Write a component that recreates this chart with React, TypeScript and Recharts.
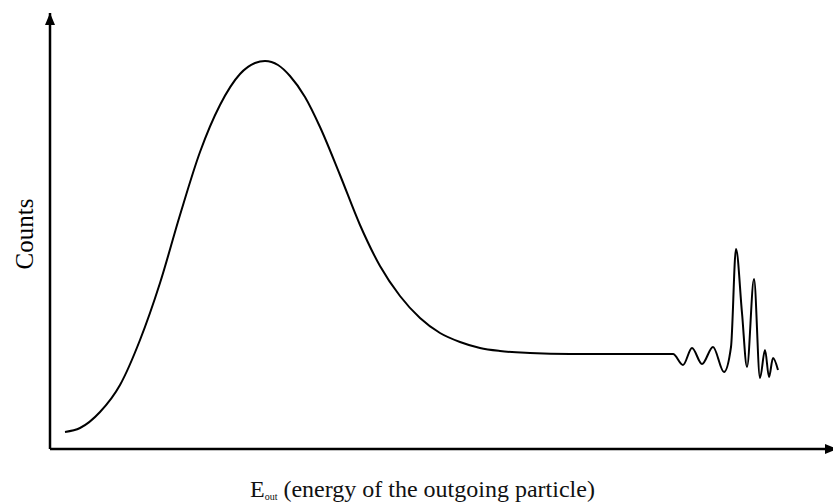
import { LineChart, Line, XAxis, YAxis, ReferenceDot, ReferenceLine } from 'recharts'

// energy axis (arbitrary units) and counts
const energy = [
  15, 30, 50, 70, 90, 110, 130, 150, 170, 190, 205, 215, 228, 240, 255, 270, 290, 310, 330, 350,
  370, 390, 410, 430, 450, 480, 520, 570, 610, 623, 633, 642, 652, 663, 674, 681, 686, 692, 697,
  704, 710, 715, 719, 723, 728,
]
const counts = [
  17, 21, 37, 64, 109, 166, 234, 297, 344, 375, 386, 388, 384, 373, 352, 322, 274, 224, 183, 153,
  131, 116, 107, 101, 98, 96, 95, 95, 95, 95, 84, 101, 85, 102, 77, 102, 200, 136, 82, 170, 71, 99,
  72, 91, 79,
]

const xMax = 783
const yMax = 436

const data = energy.map((e, i) => ({ e, c: counts[i] }))

const font = '"Liberation Serif", "Times New Roman", serif'

const UpArrow = (props: any) => {
  const { cx, cy } = props
  return <polygon points={`${cx},${cy} ${cx - 5},${cy + 12} ${cx + 5},${cy + 12}`} fill="#000" />
}

const RightArrow = (props: any) => {
  const { cx, cy } = props
  return <polygon points={`${cx + 4},${cy} ${cx - 8},${cy - 5} ${cx - 8},${cy + 5}`} fill="#000" />
}

const xLabel = (p: any) => {
  const vb = p.viewBox
  return (
    <text x={vb.x + 200} y={vb.y + 48} fontFamily={font} fontSize={24} fill="#111">
      E<tspan fontSize={10} dy={3}>out</tspan>
      <tspan dy={-3}> (energy of the outgoing particle)</tspan>
    </text>
  )
}

const yLabel = (p: any) => {
  const vb = p.viewBox
  const cy = vb.y + vb.height / 2 + 3
  return (
    <text
      x={33}
      y={cy}
      transform={`rotate(-90 33 ${cy})`}
      textAnchor="middle"
      fontFamily={font}
      fontSize={25}
      fill="#000"
    >
      Counts
    </text>
  )
}

export default function App() {
  return (
    <div style={{ position: 'absolute', left: 0, top: 0, width: 833, height: 504, background: '#fff' }}>
      <LineChart width={833} height={504} data={data} margin={{ top: 13, right: 0, bottom: 55, left: 50 }}>
        <XAxis dataKey="e" type="number" domain={[0, xMax]} allowDataOverflow hide />
        <YAxis type="number" domain={[0, yMax]} allowDataOverflow hide />
        <ReferenceLine x={0} stroke="#000" strokeWidth={2.5} label={{ content: yLabel }} />
        <ReferenceLine y={0} stroke="#000" strokeWidth={2.5} label={{ content: xLabel }} />
        <Line
          type="monotone"
          dataKey="c"
          stroke="#000"
          strokeWidth={2}
          dot={false}
          isAnimationActive={false}
        />
        <ReferenceDot x={0} y={yMax} ifOverflow="visible" shape={UpArrow} />
        <ReferenceDot x={xMax} y={0} ifOverflow="visible" shape={RightArrow} />
      </LineChart>
    </div>
  )
}
